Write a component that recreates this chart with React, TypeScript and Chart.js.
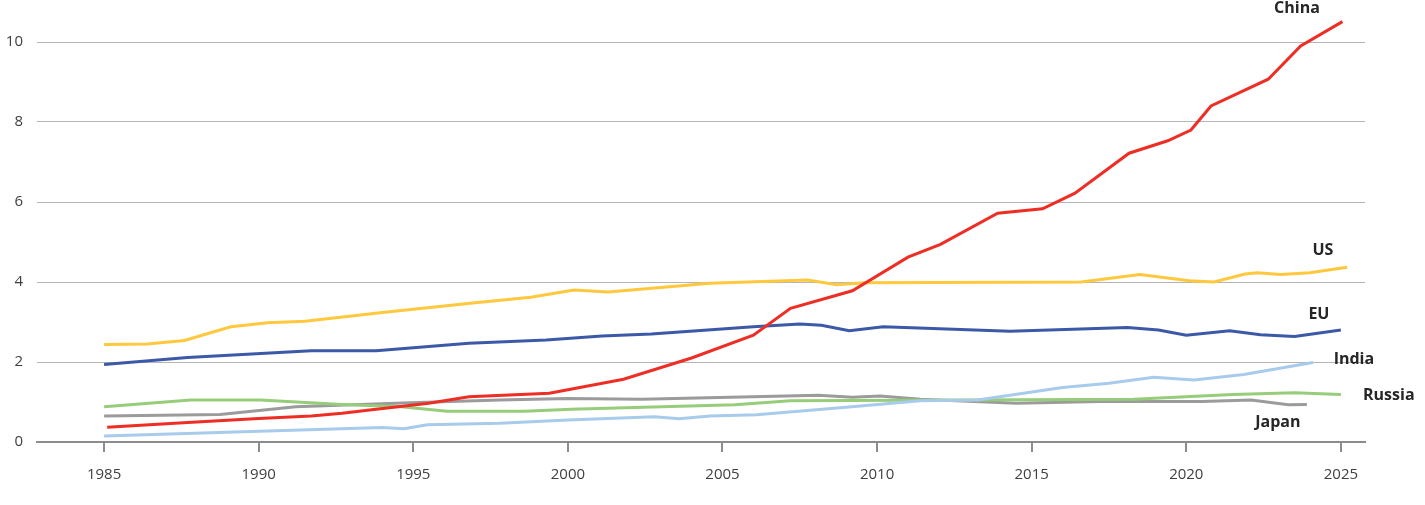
import { useEffect, useRef } from "react";
import { Chart, registerables } from "chart.js";

Chart.register(...registerables);

// years (fractional) and values per country
const CHINA_X = [1985.1, 1987.7, 1990.0, 1991.7, 1992.7, 1993.8, 1995.5, 1996.8, 1999.4, 2001.8, 2004.0, 2006.0, 2007.2, 2009.2, 2011.0, 2012.05, 2013.9, 2015.35, 2016.4, 2018.15, 2019.4, 2020.15, 2020.8, 2022.65, 2023.7, 2025.05];
const CHINA_Y = [0.37, 0.49, 0.59, 0.65, 0.72, 0.82, 0.97, 1.13, 1.22, 1.57, 2.1, 2.67, 3.34, 3.78, 4.62, 4.94, 5.72, 5.83, 6.22, 7.22, 7.53, 7.8, 8.4, 9.07, 9.9, 10.51];

const US_X = [1985.0, 1986.4, 1987.6, 1989.1, 1990.3, 1991.5, 1994.0, 1997.0, 1998.8, 2000.2, 2001.3, 2004.6, 2007.75, 2008.7, 2009.6, 2016.6, 2018.5, 2020.1, 2020.9, 2021.9, 2022.3, 2023.05, 2024.0, 2025.2];
const US_Y = [2.44, 2.45, 2.54, 2.88, 2.98, 3.02, 3.24, 3.48, 3.62, 3.8, 3.75, 3.97, 4.05, 3.93, 3.98, 4.0, 4.19, 4.03, 4.0, 4.2, 4.23, 4.19, 4.23, 4.37];

const EU_X = [1985.0, 1987.7, 1991.7, 1993.8, 1996.8, 1999.3, 2001.1, 2002.7, 2006.0, 2007.5, 2008.2, 2009.1, 2010.2, 2014.3, 2018.1, 2019.1, 2020.0, 2021.4, 2022.4, 2023.5, 2025.0];
const EU_Y = [1.94, 2.11, 2.28, 2.28, 2.47, 2.55, 2.65, 2.7, 2.88, 2.95, 2.92, 2.78, 2.88, 2.77, 2.86, 2.8, 2.67, 2.78, 2.68, 2.64, 2.8];

const INDIA_X = [1985.0, 1994.0, 1994.7, 1995.45, 1997.8, 2000.0, 2002.8, 2003.6, 2004.6, 2006.1, 2009.0, 2011.4, 2013.25, 2016.0, 2017.5, 2018.95, 2020.25, 2021.86, 2024.1];
const INDIA_Y = [0.15, 0.36, 0.33, 0.43, 0.47, 0.55, 0.63, 0.58, 0.65, 0.68, 0.87, 1.03, 1.05, 1.36, 1.47, 1.62, 1.55, 1.69, 1.99];

const RUSSIA_X = [1985.0, 1987.8, 1990.05, 1992.7, 1994.6, 1996.1, 1998.6, 2000.1, 2005.4, 2007.2, 2018.3, 2021.5, 2023.5, 2025.0];
const RUSSIA_Y = [0.88, 1.05, 1.05, 0.94, 0.88, 0.77, 0.77, 0.82, 0.93, 1.03, 1.07, 1.19, 1.23, 1.19];

const JAPAN_X = [1985.0, 1988.75, 1991.2, 1994.9, 1997.8, 2000.0, 2002.4, 2008.1, 2009.2, 2010.1, 2011.4, 2014.5, 2017.2, 2020.5, 2022.1, 2023.3, 2023.9];
const JAPAN_Y = [0.65, 0.69, 0.88, 0.98, 1.05, 1.09, 1.07, 1.17, 1.12, 1.15, 1.07, 0.97, 1.01, 1.01, 1.05, 0.93, 0.94];

const YEAR_TICKS = [1985, 1990, 1995, 2000, 2005, 2010, 2015, 2020, 2025];
const VALUE_TICKS = [0, 2, 4, 6, 8, 10];

const pts = (xs: number[], ys: number[]) => xs.map((x, i) => ({ x, y: ys[i] }));

// end labels, in data units
const LABELS = [
  { text: "China", x: 2023.58, y: 10.83 },
  { text: "US", x: 2024.42, y: 4.78 },
  { text: "EU", x: 2024.29, y: 3.18 },
  { text: "India", x: 2025.42, y: 2.07 },
  { text: "Russia", x: 2026.55, y: 1.16 },
  { text: "Japan", x: 2022.96, y: 0.48 },
];

const endLabels = {
  id: "endLabels",
  afterDatasetsDraw(chart: Chart) {
    const { ctx, scales } = chart;
    ctx.save();
    ctx.font = 'bold 16px "Open Sans", sans-serif';
    ctx.fillStyle = "#262626";
    ctx.textAlign = "center";
    ctx.textBaseline = "middle";
    for (const l of LABELS) {
      ctx.fillText(l.text, scales.x.getPixelForValue(l.x), scales.y.getPixelForValue(l.y));
    }
    ctx.restore();
  },
};

export default function App() {
  const canvasRef = useRef<HTMLCanvasElement>(null);

  useEffect(() => {
    document.body.style.margin = "0";
    if (!canvasRef.current) return;
    const line = (label: string, color: string, xs: number[], ys: number[]) => ({
      label,
      data: pts(xs, ys),
      borderColor: color,
      backgroundColor: color,
      borderWidth: 3,
      pointRadius: 0,
      tension: 0,
      clip: false as const,
    });
    const chart = new Chart(canvasRef.current, {
      type: "line",
      data: {
        datasets: [
          line("China", "#EE2E24", CHINA_X, CHINA_Y),
          line("US", "#FFC83D", US_X, US_Y),
          line("EU", "#3C59A8", EU_X, EU_Y),
          line("India", "#A8CBEC", INDIA_X, INDIA_Y),
          line("Russia", "#97CD7A", RUSSIA_X, RUSSIA_Y),
          line("Japan", "#9B9B9B", JAPAN_X, JAPAN_Y),
        ],
      },
      options: {
        responsive: true,
        maintainAspectRatio: false,
        animation: false,
        layout: { padding: { top: 2, right: 60, left: 0, bottom: 0 } },
        plugins: { legend: { display: false }, tooltip: { enabled: false } },
        scales: {
          x: {
            type: "linear",
            min: 1982.83,
            max: 2025.78,
            afterBuildTicks: (axis: any) => {
              axis.ticks = YEAR_TICKS.map((value) => ({ value }));
            },
            afterFit: (scale: any) => {
              scale.height = 63;
            },
            grid: {
              drawOnChartArea: false,
              drawTicks: true,
              tickLength: 10,
              color: "#8c8c8c",
              lineWidth: 2,
            },
            border: { display: true, color: "#8c8c8c", width: 2 },
            ticks: {
              color: "#404040",
              font: { family: "Open Sans", size: 15 },
              padding: 14,
              maxRotation: 0,
              callback: (v: any) => String(v),
            },
          },
          y: {
            min: 0,
            max: 11,
            afterBuildTicks: (axis: any) => {
              axis.ticks = VALUE_TICKS.map((value) => ({ value }));
            },
            afterFit: (scale: any) => {
              scale.width = 37;
              scale.paddingTop = 0;
              scale.paddingBottom = 0;
            },
            grid: { color: "#b5b5b5", lineWidth: 1, drawTicks: false },
            border: { display: false },
            ticks: {
              color: "#404040",
              font: { family: "Open Sans", size: 15 },
              padding: 14,
            },
          },
        },
      },
      plugins: [endLabels],
    });
    return () => chart.destroy();
  }, []);

  return (
    <div style={{ position: "relative", width: 1425, height: 505 }}>
      <canvas ref={canvasRef} />
    </div>
  );
}
